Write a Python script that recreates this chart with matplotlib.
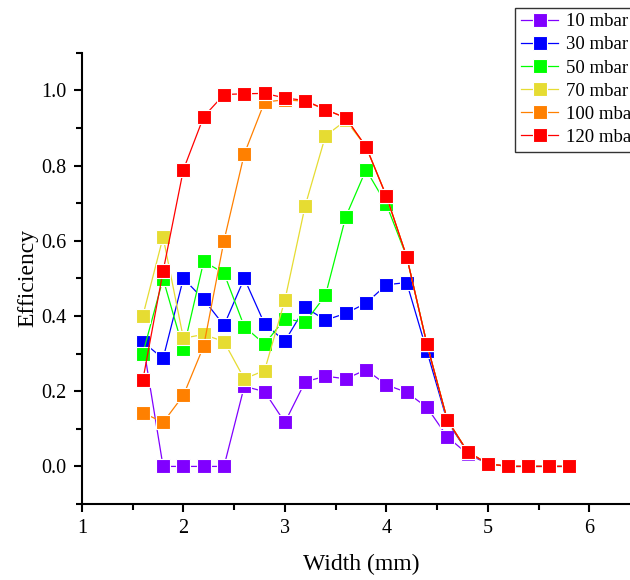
import matplotlib
matplotlib.use("Agg")
import matplotlib.pyplot as plt
from matplotlib.ticker import MultipleLocator

plt.rcParams["font.family"] = ["Liberation Serif", "DejaVu Serif"]

# channel width (mm)
width = [1.6, 1.8, 2.0, 2.2, 2.4, 2.6, 2.8, 3.0, 3.2, 3.4, 3.6,
         3.8, 4.0, 4.2, 4.4, 4.6, 4.8, 5.0, 5.2, 5.4, 5.6, 5.8]

eff_10 = [0.331, 0.0, 0.0, 0.0, 0.0, 0.213, 0.199, 0.117, 0.225, 0.240, 0.233,
          0.257, 0.217, 0.197, 0.157, 0.079, 0.033, 0.007, 0.0, 0.0, 0.0, 0.0]
eff_30 = [0.331, 0.287, 0.500, 0.444, 0.375, 0.500, 0.379, 0.333, 0.423, 0.389, 0.407,
          0.434, 0.483, 0.489, 0.306, 0.120, 0.038, 0.007, 0.0, 0.0, 0.0, 0.0]
eff_50 = [0.300, 0.499, 0.311, 0.545, 0.514, 0.372, 0.325, 0.393, 0.383, 0.455, 0.664,
          0.789, 0.697, 0.558, 0.325, 0.124, 0.039, 0.007, 0.0, 0.0, 0.0, 0.0]
eff_70 = [0.400, 0.610, 0.341, 0.351, 0.332, 0.233, 0.255, 0.442, 0.693, 0.879, 0.920,
          0.850, 0.719, 0.558, 0.325, 0.124, 0.039, 0.007, 0.0, 0.0, 0.0, 0.0]
eff_100 = [0.143, 0.117, 0.189, 0.320, 0.600, 0.831, 0.969, 0.975, 0.971, 0.949, 0.927,
           0.850, 0.719, 0.558, 0.325, 0.124, 0.039, 0.007, 0.0, 0.0, 0.0, 0.0]
eff_120 = [0.229, 0.519, 0.789, 0.930, 0.989, 0.991, 0.992, 0.980, 0.973, 0.949, 0.927,
           0.850, 0.719, 0.558, 0.325, 0.124, 0.039, 0.007, 0.0, 0.0, 0.0, 0.0]

labels = ["10 mbar", "30 mbar", "50 mbar", "70 mbar", "100 mbar", "120 mbar"]
colors = ["#8000ff", "#0000ff", "#00ff00", "#e6dc32", "#ff8000", "#ff0000"]

fig = plt.figure(figsize=(6.3, 5.8), dpi=100)
ax = fig.add_axes([0.130, 0.131, 0.886, 0.778])

series = [eff_10, eff_30, eff_50, eff_70, eff_100, eff_120]
for y, c, lab in zip(series, colors, labels):
    ax.plot(width, y, color=c, lw=0.9, marker="s", ms=9.5,
            mfc=c, mec="white", mew=0.8, label=lab)

ax.set_xlim(1, 6.5)
ax.set_ylim(-0.1, 1.1)
ax.xaxis.set_major_locator(MultipleLocator(1))
ax.xaxis.set_minor_locator(MultipleLocator(0.5))
ax.yaxis.set_major_locator(MultipleLocator(0.2))
ax.yaxis.set_minor_locator(MultipleLocator(0.1))
ax.yaxis.set_major_formatter(plt.FormatStrFormatter("%.1f"))

for s in ["top", "right"]:
    ax.spines[s].set_visible(False)
for s in ["left", "bottom"]:
    ax.spines[s].set_linewidth(1.5)
ax.tick_params(which="major", direction="out", length=6, width=1.5,
               labelsize=14.5, pad=5)
ax.tick_params(which="minor", direction="out", length=4, width=1.5)

ax.set_xlabel("Width (mm)", fontsize=17, labelpad=11)
ax.set_ylabel("Efficiency", fontsize=17, labelpad=2)

fig.legend(loc="upper left", bbox_to_anchor=(0.818, 0.987), fontsize=13.5,
           frameon=True, fancybox=False, edgecolor="black",
           handlelength=2.0, handletextpad=0.4, labelspacing=0.32,
           borderpad=0.3, borderaxespad=0)

fig.savefig("out.png", dpi=100)
